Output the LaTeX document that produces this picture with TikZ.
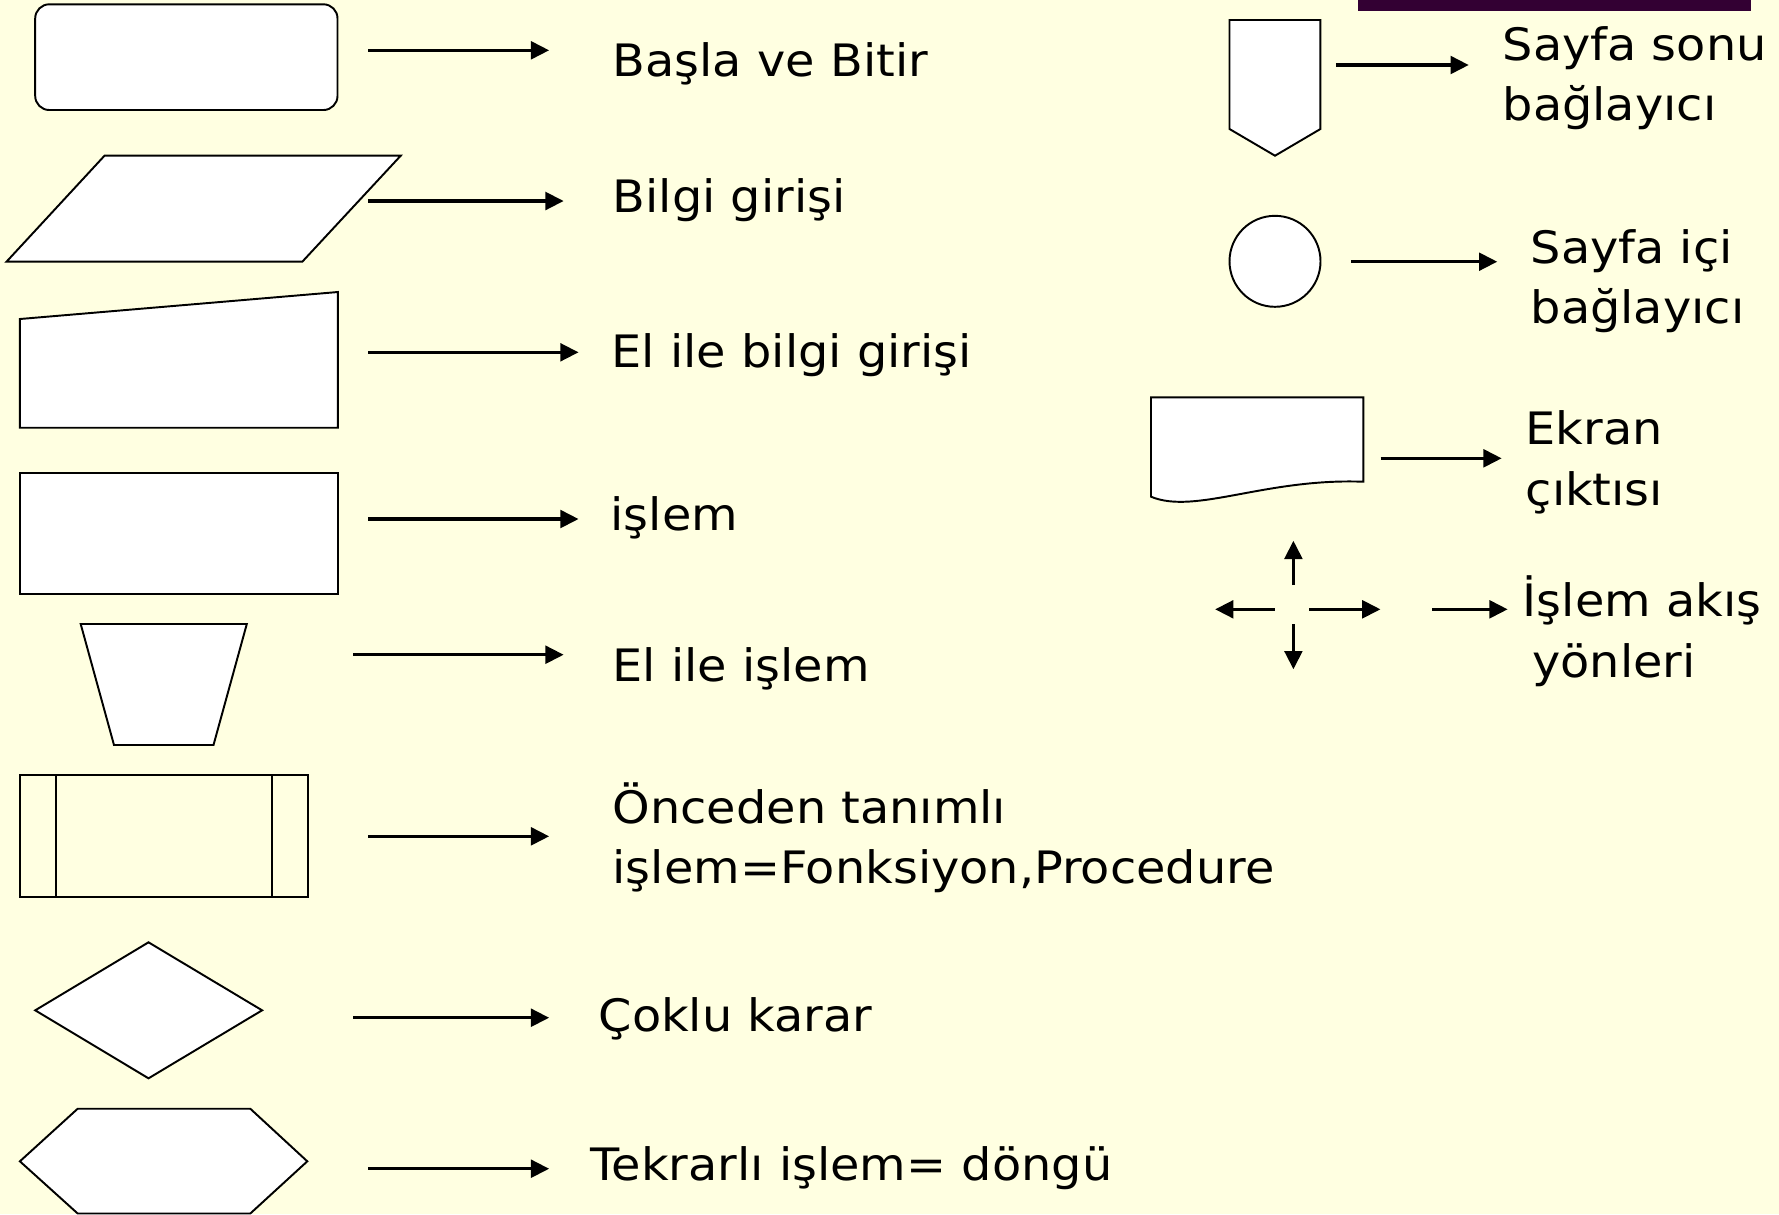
\documentclass[tikz,border=0pt]{standalone}
\usepackage{fontspec}
\setmainfont{DejaVu Sans}[FakeStretch=1.07]
\usepackage{tikz}
\usetikzlibrary{arrows.meta}
\definecolor{slideyellow}{HTML}{FFFFE1}
\definecolor{titlebar}{HTML}{330033}

\begin{document}
\begin{tikzpicture}[
  x=0.01cm, y=-0.01cm,
  >={Triangle[length=5.2pt,width=5pt]},
  symbol/.style={draw, fill=white, line width=0.55pt},
  flow/.style={->, line width=1pt},
  desc/.style={anchor=base west, inner sep=0pt, align=left,
    font=\fontsize{12.7pt}{17.07pt}\selectfont}
  ]
  \fill[slideyellow] (0,0) rectangle (1779,1214);
  \useasboundingbox (0,0) rectangle (1779,1214);
  \fill[titlebar] (1358,0) rectangle (1751,11);

  % symbols, left column
  \draw[symbol, rounded corners=4pt] (35.2,4.3) rectangle (337.5,110);
  \draw[symbol] (104.5,155.7) -- (400.7,155.7) -- (302.3,261.7) -- (6.5,261.7) -- cycle;
  \draw[symbol] (19.9,319) -- (337.9,292) -- (337.9,427.7) -- (19.9,427.7) -- cycle;
  \draw[symbol] (19.9,473.3) rectangle (337.9,594.3);
  \draw[symbol] (80.7,624) -- (246.8,624) -- (213.5,745) -- (114,745) -- cycle;
  \draw[symbol, fill=none] (19.9,775.3) rectangle (308.1,896.7)
    (56.3,775.3) -- (56.3,896.7) (271.7,775.3) -- (271.7,896.7);
  \draw[symbol] (35.2,1010.3) -- (148.5,942.3) -- (262.1,1010.3) -- (148.5,1078.3) -- cycle;
  \draw[symbol] (19.9,1161.3) -- (77.7,1108.7) -- (250.3,1108.7) -- (307.3,1161.3)
    -- (250.3,1213.5) -- (77.7,1213.5) -- cycle;

  % symbols, right column
  \draw[symbol] (1229.5,20) -- (1320.4,20) -- (1320.4,129) -- (1275,155.7) -- (1229.5,129) -- cycle;
  \draw[symbol] (1275,261.3) circle [radius=45.5];
  \draw[symbol] (1151,397.3) -- (1363.3,397.3) -- (1363.3,481.7)
    .. controls (1265,478) and (1195,515) .. (1151,496.7) -- cycle;

  % texts (two-line texts sit on their last line)
  \node[desc] (basla)   at (612,76.7)   {Başla ve Bitir};
  \node[desc] (bilgi)   at (612,212.3)  {Bilgi girişi};
  \node[desc] (elbilgi) at (611,367.7)  {El ile bilgi girişi};
  \node[desc] (islem)   at (610,530)    {işlem};
  \node[desc] (elislem) at (612,681.7)  {El ile işlem};
  \node[desc] (onceden) at (612,883.3)  {Önceden tanımlı\\işlem=Fonksiyon,Procedure};
  \node[desc] (coklu)   at (598,1031.7) {Çoklu karar};
  \node[desc] (tekrar)  at (590,1180)   {Tekrarlı işlem= döngü};
  \node[desc] (sonu)    at (1502,120.5) {Sayfa sonu\\bağlayıcı};
  \node[desc] (ici)     at (1530,323.5) {Sayfa içi\\bağlayıcı};
  \node[desc] (ekran)   at (1525,505)   {Ekran\\çıktısı};
  \node[desc] (akis)    at (1522,677)   {İşlem akış\\\hspace*{2.7pt}yönleri};

  % arrows
  \coordinate (basla-from)   at (368.1,50.3);   \coordinate (basla-to)   at (549.2,50.3);
  \coordinate (bilgi-from)   at (368.1,201);    \coordinate (bilgi-to)   at (563.7,201);
  \coordinate (elbilgi-from) at (368.1,352.3);  \coordinate (elbilgi-to) at (578.6,352.3);
  \coordinate (islem-from)   at (368.1,519);    \coordinate (islem-to)   at (578.6,519);
  \coordinate (elislem-from) at (353.2,654.7);  \coordinate (elislem-to) at (563.7,654.7);
  \coordinate (onceden-from) at (368.1,836.3);  \coordinate (onceden-to) at (549.2,836.3);
  \coordinate (coklu-from)   at (353.2,1017.7); \coordinate (coklu-to)   at (549.2,1017.7);
  \coordinate (tekrar-from)  at (368.1,1168.7); \coordinate (tekrar-to)  at (549.2,1168.7);
  \coordinate (sonu-from)    at (1335.9,65);    \coordinate (sonu-to)    at (1468.8,65);
  \coordinate (ici-from)     at (1351.4,261.7); \coordinate (ici-to)     at (1497.3,261.7);
  \coordinate (ekran-from)   at (1380.7,458.3); \coordinate (ekran-to)   at (1501.7,458.3);
  \coordinate (akis-from)    at (1432.1,609.3); \coordinate (akis-to)    at (1507.7,609.3);

  \draw[flow] (basla-from) -- (basla-to);
  \draw[flow] (bilgi-from) -- (bilgi-to);
  \draw[flow] (elbilgi-from) -- (elbilgi-to);
  \draw[flow] (islem-from) -- (islem-to);
  \draw[flow] (elislem-from) -- (elislem-to);
  \draw[flow] (onceden-from) -- (onceden-to);
  \draw[flow] (coklu-from) -- (coklu-to);
  \draw[flow] (tekrar-from) -- (tekrar-to);
  \draw[flow] (sonu-from) -- (sonu-to);
  \draw[flow] (ici-from) -- (ici-to);
  \draw[flow] (ekran-from) -- (ekran-to);
  \draw[flow] (akis-from) -- (akis-to);

  % flow directions
  \coordinate (up-from)    at (1293.4,585);   \coordinate (up-to)    at (1293.4,540.7);
  \coordinate (left-from)  at (1274.7,609.3); \coordinate (left-to)  at (1215.1,609.3);
  \coordinate (right-from) at (1309.1,609.3); \coordinate (right-to) at (1380.5,609.3);
  \coordinate (down-from)  at (1293.4,624.3); \coordinate (down-to)  at (1293.4,669.3);
  \draw[flow] (up-from) -- (up-to);
  \draw[flow] (left-from) -- (left-to);
  \draw[flow] (right-from) -- (right-to);
  \draw[flow] (down-from) -- (down-to);
\end{tikzpicture}
\end{document}
